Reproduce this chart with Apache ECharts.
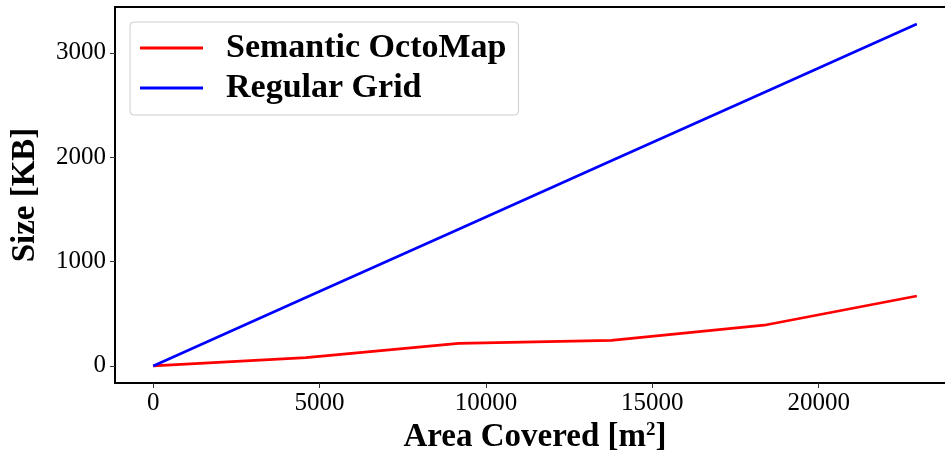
<!DOCTYPE html>
<html>
<head>
<meta charset="utf-8">
<script src="https://cdn.jsdelivr.net/npm/echarts@6/dist/echarts.min.js"></script>
<style>
  html, body { margin: 0; padding: 0; background: #fff; }
  #chart { width: 945px; height: 460px; }
</style>
</head>
<body>
<div id="chart"></div>
<script>
// Map size versus explored area
const areaCovered = [0, 4590, 9180, 13770, 18360, 22950];          // m^2
const semanticOctoMapKB = [0, 80, 215, 245, 390, 670];             // KB
const regularGridKB = [0, 655, 1310, 1965, 2620, 3275];            // KB
const xTicks = [0, 5000, 10000, 15000, 20000];
const yTicks = [0, 1000, 2000, 3000];

const serif = '"Liberation Serif", "Times New Roman", serif';

function pairs(xs, ys) {
  return xs.map((x, i) => [x, ys[i]]);
}

// 5% padding around the data extent on both axes
const xMax = Math.max(...areaCovered);
const yMax = Math.max(...regularGridKB);
const xPad = xMax * 0.05, yPad = yMax * 0.05;

const plain = v => String(Math.round(v));

const chart = echarts.init(document.getElementById('chart'), null, { renderer: 'canvas' });
chart.setOption({
  animation: false,
  backgroundColor: '#fff',
  grid: {
    left: 115, top: 7, width: 840, height: 376,
    outerBoundsMode: 'none',
    containLabel: false,
    show: true, borderColor: '#000', borderWidth: 2, backgroundColor: 'transparent'
  },
  legend: {
    orient: 'vertical',
    left: 130, top: 22,
    padding: [9, 12, 10, 10],
    itemGap: 6,
    itemWidth: 63, itemHeight: 3,
    icon: 'rect',
    backgroundColor: 'rgba(255,255,255,0.8)',
    borderColor: '#cccccc', borderWidth: 1, borderRadius: 4,
    textStyle: {
      fontFamily: serif, fontWeight: 'bold', fontSize: 34, color: '#000',
      lineHeight: 32, padding: [0, 0, 0, 18]
    },
    data: ['Semantic OctoMap', 'Regular Grid']
  },
  xAxis: {
    type: 'value',
    min: -xPad, max: xMax + xPad,
    name: 'Area Covered [m{sup|2}]',
    nameLocation: 'middle', nameGap: 37,
    nameTextStyle: {
      fontFamily: serif, fontWeight: 'bold', fontSize: 33, color: '#000',
      rich: { sup: { fontFamily: serif, fontWeight: 'bold', fontSize: 19, color: '#000', padding: [0, 0, 14, 0] } }
    },
    axisLine: { show: false, onZero: false },
    splitLine: { show: false },
    axisTick: { show: true, customValues: xTicks, length: 5, lineStyle: { color: '#333', width: 1 } },
    axisLabel: { customValues: xTicks, formatter: plain, margin: 8, fontFamily: serif, fontSize: 25, color: '#000' }
  },
  yAxis: {
    type: 'value',
    min: -yPad, max: yMax + yPad,
    name: 'Size [KB]',
    nameLocation: 'middle', nameGap: 73,
    nameTextStyle: { fontFamily: serif, fontWeight: 'bold', fontSize: 33, color: '#000' },
    axisLine: { show: false, onZero: false },
    splitLine: { show: false },
    axisTick: { show: true, customValues: yTicks, length: 5, lineStyle: { color: '#333', width: 1 } },
    axisLabel: { customValues: yTicks, formatter: plain, margin: 9, fontFamily: serif, fontSize: 25, color: '#000' }
  },
  series: [
    {
      name: 'Semantic OctoMap', type: 'line', showSymbol: false, color: '#ff0000',
      lineStyle: { width: 2.7, color: '#ff0000' },
      data: pairs(areaCovered, semanticOctoMapKB)
    },
    {
      name: 'Regular Grid', type: 'line', showSymbol: false, color: '#0000ff',
      lineStyle: { width: 2.7, color: '#0000ff' },
      data: pairs(areaCovered, regularGridKB)
    }
  ]
});
</script>
</body>
</html>
